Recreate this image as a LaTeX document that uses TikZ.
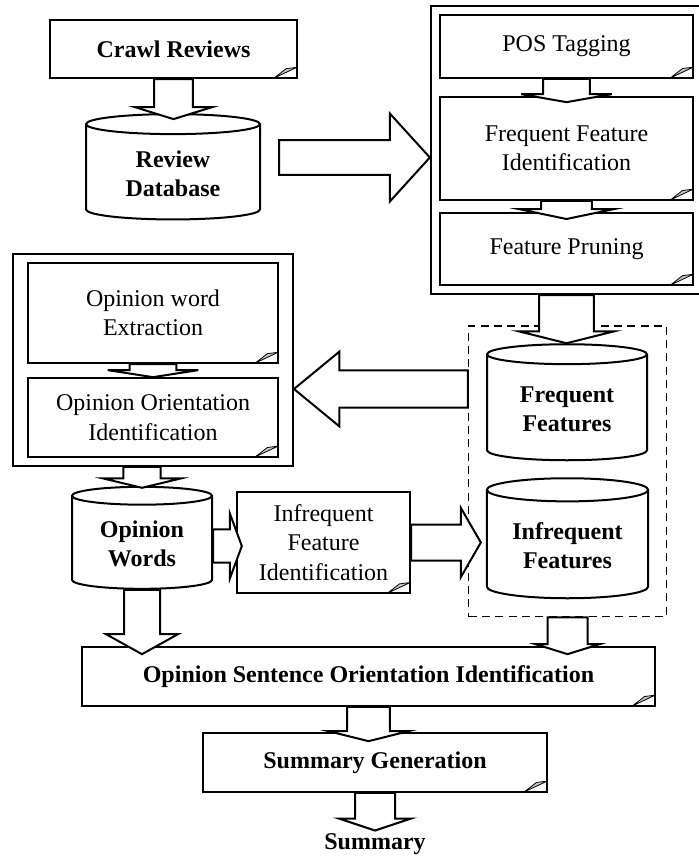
\documentclass[tikz,border=0pt]{standalone}
\usepackage{fontspec}
\setmainfont{Liberation Serif}
\usetikzlibrary{shapes.geometric,fit,calc}

\tikzset{
  docbox/.style={draw, line width=1.5pt, fill=white, align=center, inner sep=2pt,
    font=\fontsize{18}{22}\selectfont,
    path picture={\draw[line width=0.6pt, fill=gray!45]
      ([xshift=-17pt]path picture bounding box.south east)
      -- ([yshift=8pt]path picture bounding box.south east)
      -- ([xshift=-8pt,yshift=7pt]path picture bounding box.south east) -- cycle;}},
  dbase/.style={cylinder, shape border rotate=90, aspect=0.2, draw, line width=1.5pt,
    fill=white, align=center, inner sep=2pt, font=\fontsize{18}{22}\selectfont\bfseries},
  groupbox/.style={draw, line width=1.5pt},
  featbox/.style={draw, line width=1pt, dash pattern=on 6pt off 4pt},
  blockarrow/.style={draw, line width=1.5pt, fill=white, line join=miter}
}

% block arrow pointing down: from, to, shaft half width, head half width, head length
\newcommand{\downblock}[5]{%
  \draw[blockarrow] let \p1=(#1), \p2=(#2) in
    (\x1-#3,\y1) -- (\x1-#3,\y2+#5) -- (\x1-#4,\y2+#5) -- (\x1,\y2)
    -- (\x1+#4,\y2+#5) -- (\x1+#3,\y2+#5) -- (\x1+#3,\y1) -- cycle;}
% block arrow pointing left or right
\newcommand{\sideblock}[5]{%
  \draw[blockarrow] let \p1=(#1), \p2=(#2), \p3=(\x2,\y1), \p4=($(\p3)!#5!(\p1)$) in
    (\x1,\y1-#3) -- (\x4,\y1-#3) -- (\x4,\y1-#4) -- (\x3,\y3)
    -- (\x4,\y1+#4) -- (\x4,\y1+#3) -- (\x1,\y1+#3) -- cycle;}

\begin{document}
\begin{tikzpicture}[x=0.75pt,y=-0.75pt]
\useasboundingbox (0,0) rectangle (699,857);

%Top left: crawling
\node[docbox, minimum width=185pt, minimum height=43.5pt] (crawl) at (173.5,49) {\textbf{Crawl Reviews}};
\node[dbase, minimum width=130.5pt, minimum height=79pt] (review) at (173,173.5) {Review\\Database};

%Feature extraction
\node[docbox, minimum width=190pt, minimum height=47pt] (pos) at (566.5,46.5) {POS Tagging};
\node[docbox, minimum width=190pt, minimum height=77pt] (ffi) at (566.5,148.5) {Frequent Feature\\Identification};
\node[docbox, minimum width=190pt, minimum height=54pt] (prune) at (566.5,249) {Feature Pruning};
\node[groupbox, fit=(pos)(ffi)(prune), inner xsep=6pt, inner ysep=6pt] (posgroup) {};

%Feature sets
\node[dbase, minimum width=120pt, minimum height=87pt] (freq) at (567,409) {Frequent\\Features};
\node[dbase, minimum width=121pt, minimum height=90pt] (infreq) at (567.5,546) {Infrequent\\Features};
\node[featbox, fit=(freq)(infreq), inner xsep=13pt, inner ysep=13pt] (featgroup) {};

%Opinion words
\node[docbox, minimum width=187.5pt, minimum height=75pt] (owe) at (153,313) {Opinion word\\Extraction};
\node[docbox, minimum width=187.5pt, minimum height=59pt] (ooi) at (153,417.5) {Opinion Orientation\\Identification};
\node[groupbox, fit=(owe)(ooi), inner xsep=10.5pt, inner ysep=6pt] (opgroup) {};
\node[dbase, minimum width=105pt, minimum height=76.5pt] (words) at (142,544) {Opinion\\Words};
\node[docbox, minimum width=130pt, minimum height=76pt] (ifi) at (323.5,542.5) {Infrequent\\Feature\\Identification};

%Bottom
\node[docbox, minimum width=430pt, minimum height=44pt] (osoi) at (368.5,676.5) {\textbf{Opinion Sentence Orientation Identification}};
\node[docbox, minimum width=258pt, minimum height=44pt] (sumgen) at (375,762.5) {\textbf{Summary Generation}};
\node[inner sep=2pt, font=\fontsize{18}{22}\selectfont\bfseries] (summary) at (375,844) {Summary};

%Block arrows
\downblock{crawl.south}{$(review.north)+(0,6)$}{14.6pt}{29pt}{9pt}
\sideblock{$(review.east)+(18,-16)$}{posgroup.west}{13pt}{33pt}{30pt}
\downblock{pos.south}{$(ffi.north)+(0,6)$}{17.6pt}{34pt}{6pt}
\downblock{ffi.south}{$(prune.north)+(0,7)$}{19pt}{36pt}{7.5pt}
\downblock{posgroup.south}{freq.north}{20.6pt}{36pt}{9pt}
\sideblock{$(featgroup.west |- freq.center)+(0,-20)$}{opgroup.east}{14pt}{28pt}{34pt}
\downblock{owe.south}{ooi.north}{17.6pt}{34pt}{5.3pt}
\downblock{opgroup.south -| words.north}{$(words.north)+(0,2)$}{14pt}{29pt}{7pt}
\sideblock{$(words.east)+(0,2)$}{$(ifi.west)+(6,0)$}{12.4pt}{24.4pt}{9pt}
\sideblock{ifi.east}{$(infreq.west)+(-5,0)$}{13.5pt}{26pt}{15pt}
\downblock{words.south}{$(osoi.north)+(0,8)$}{13.5pt}{27pt}{15pt}
\downblock{featgroup.south}{$(osoi.north)+(0,8)$}{15pt}{24pt}{7.5pt}
\downblock{osoi.south}{$(sumgen.north)+(0,9)$}{16pt}{30pt}{7.5pt}
\downblock{sumgen.south}{summary.north}{15pt}{27pt}{9pt}

\end{tikzpicture}
\end{document}
